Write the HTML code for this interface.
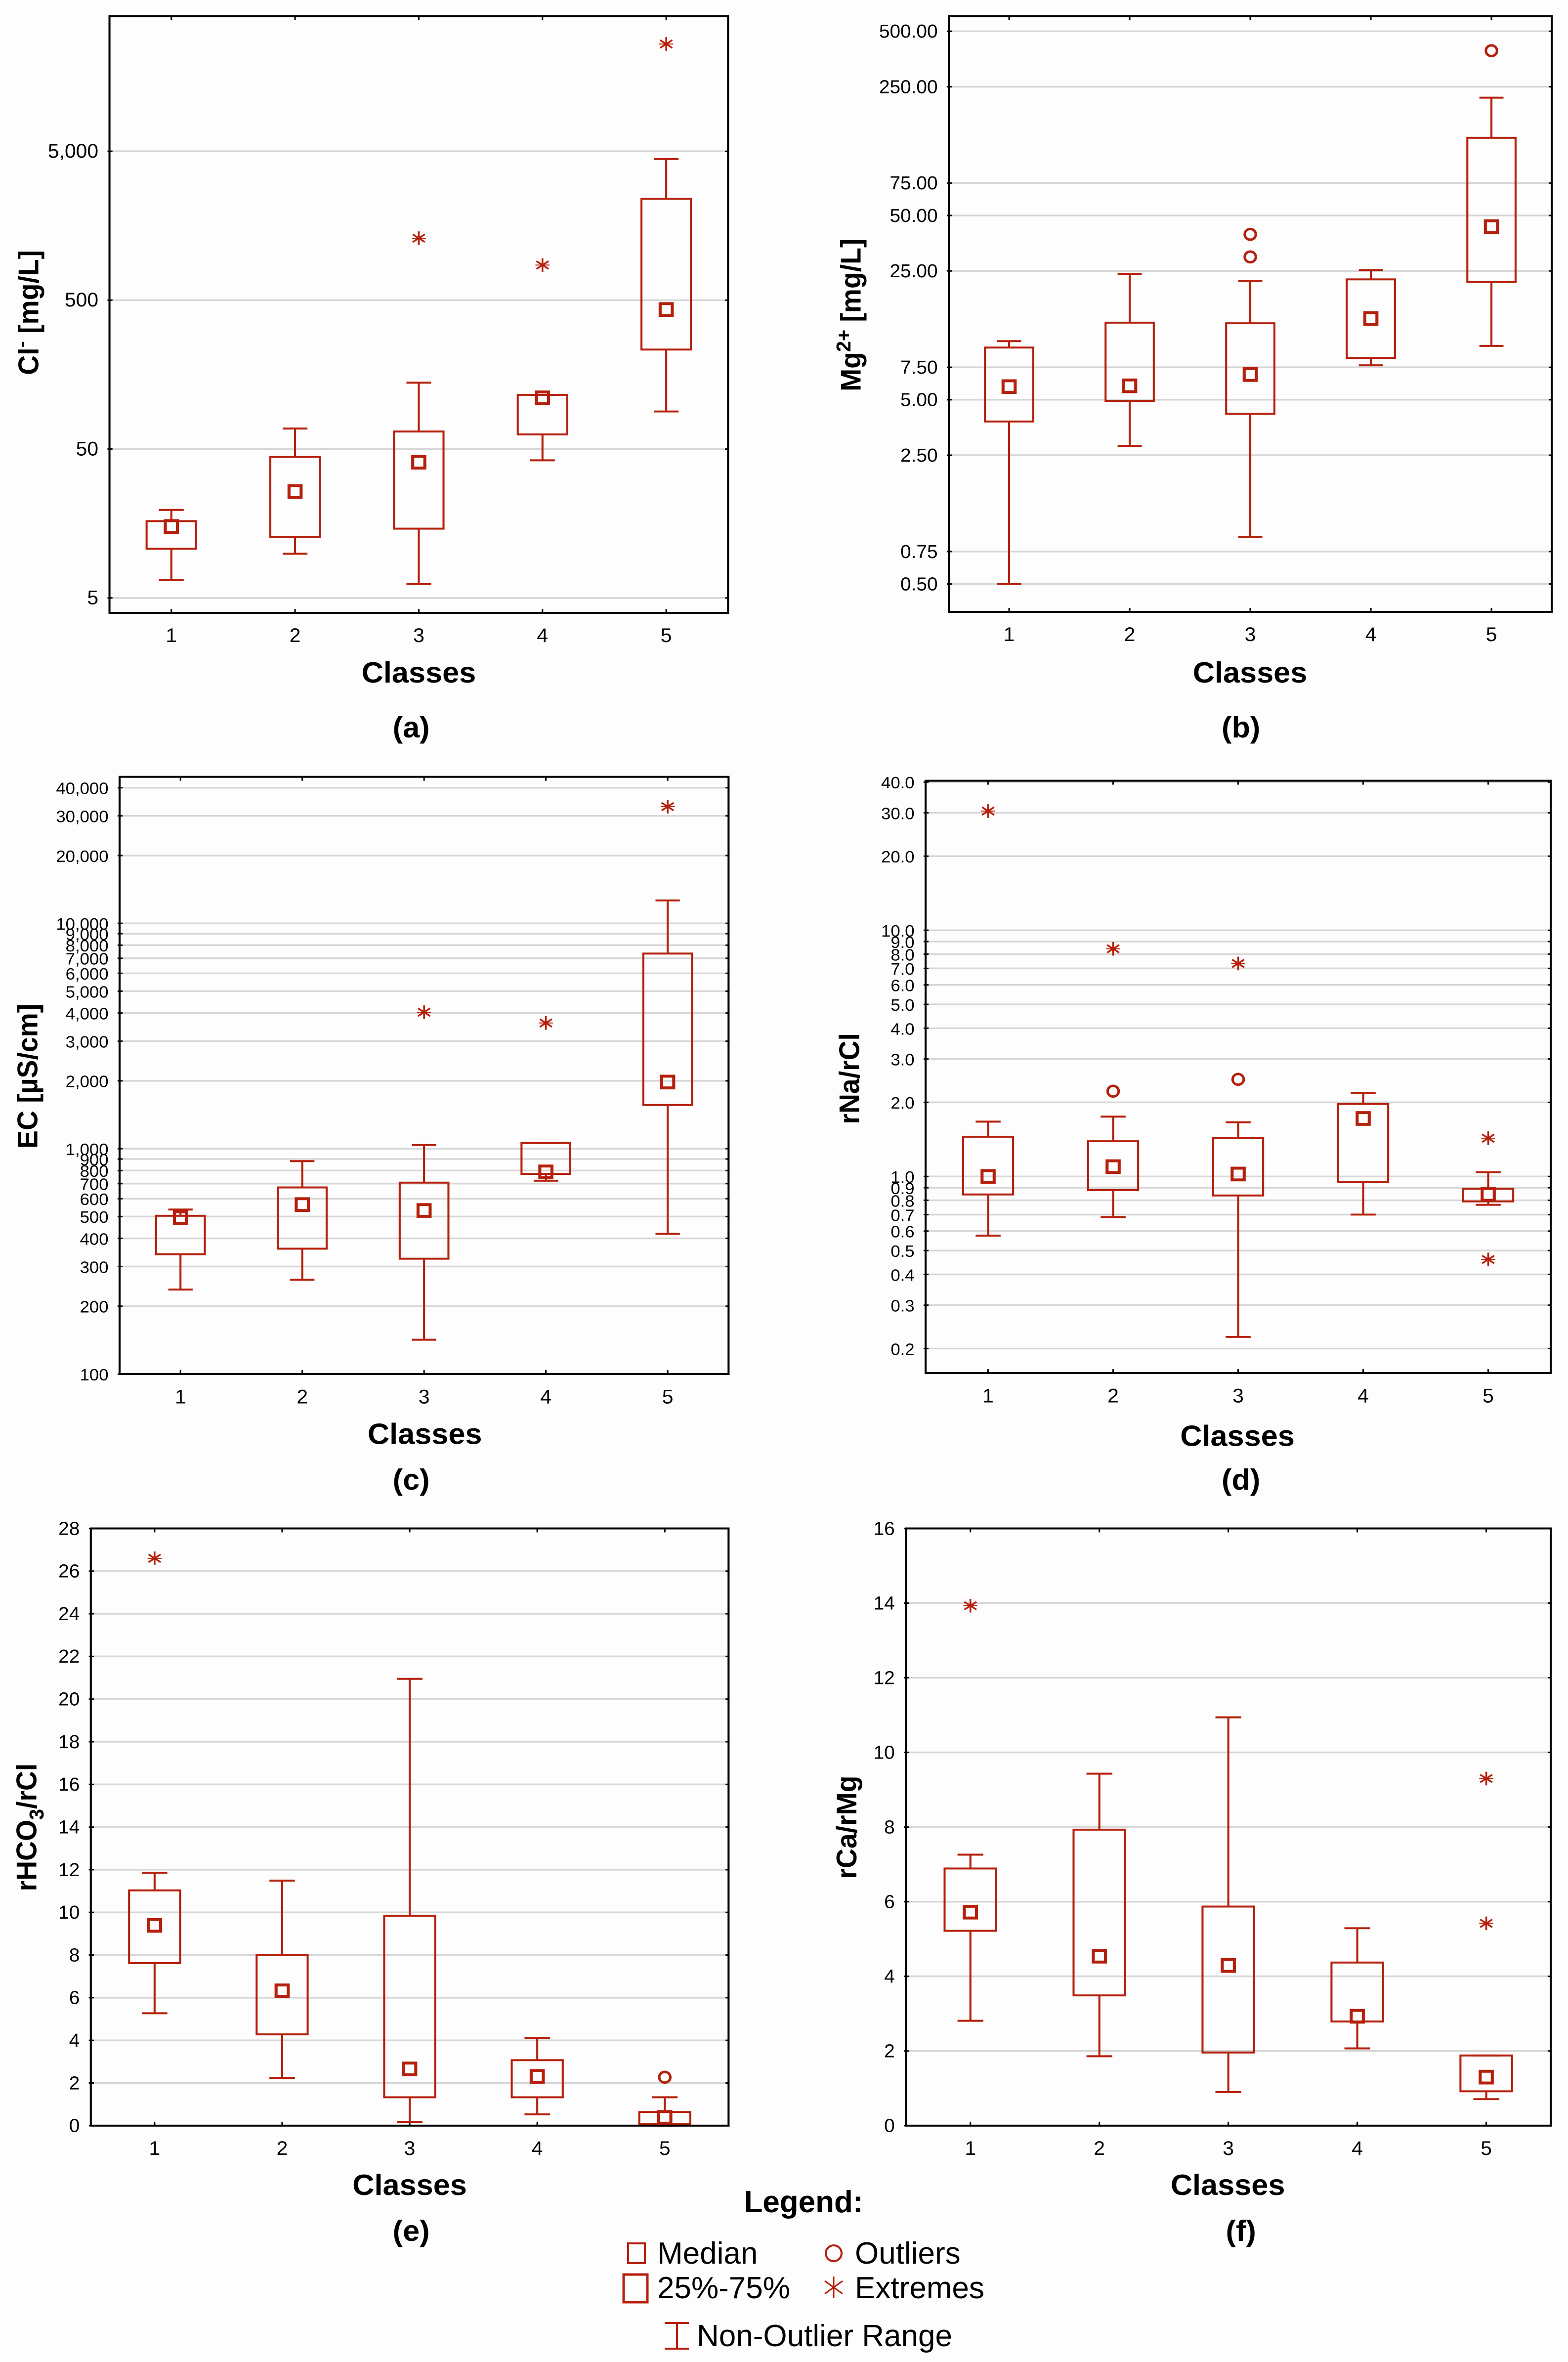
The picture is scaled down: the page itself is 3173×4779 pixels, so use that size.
<!DOCTYPE html>
<html><head><meta charset="utf-8"><title>Box plots</title>
<style>
html,body{margin:0;padding:0;background:#fdfdfd;}
svg{display:block;}
text{font-family:"Liberation Sans",Arial,sans-serif;fill:#000;}
</style></head>
<body>
<svg id="fig" xmlns="http://www.w3.org/2000/svg" width="3173" height="4779" viewBox="0 0 3173 4779">
<rect x="0" y="0" width="3173" height="4779" fill="#fdfdfd"/>
<g id="legend">
  <text x="1626" y="4476" font-size="62" font-weight="bold" text-anchor="middle">Legend:</text>
  <rect x="1271" y="4539" width="34" height="40" fill="none" stroke="#b5200c" stroke-width="4"/>
  <text x="1330" y="4580" font-size="62">Median</text>
  <rect x="1262" y="4602" width="48" height="56" fill="none" stroke="#b5200c" stroke-width="5"/>
  <text x="1330" y="4650" font-size="62">25%-75%</text>
  <circle cx="1687" cy="4559" r="16" fill="none" stroke="#b5200c" stroke-width="4"/>
  <text x="1730" y="4580" font-size="62">Outliers</text>
  <g stroke="#b5200c" stroke-width="3">
    <line x1="1687" y1="4606" x2="1687" y2="4650"/><line x1="1669" y1="4615" x2="1705" y2="4641"/><line x1="1669" y1="4641" x2="1705" y2="4615"/>
  </g>
  <text x="1730" y="4650" font-size="62">Extremes</text>
  <g stroke="#b5200c" stroke-width="4">
    <line x1="1345" y1="4700" x2="1394" y2="4700"/><line x1="1370" y1="4700" x2="1370" y2="4752"/><line x1="1345" y1="4752" x2="1394" y2="4752"/>
  </g>
  <text x="1410" y="4747" font-size="62">Non-Outlier Range</text>
</g>
</svg>
<script>
const classes = ["1","2","3","4","5"];

// (a) Cl- [mg/L]
const clMin = [6.6, 9.9, 6.2, 42.0, 89.4];
const clQ1 = [10.7, 12.8, 14.6, 62.7, 233];
const clMed = [15.1, 25.9, 40.8, 110.4, 433];
const clQ3 = [16.4, 44.3, 65.6, 115.6, 2403];
const clMax = [19.5, 68.7, 139.6, 115.6, 4435];
const clOutClass = [];
const clOutVal = [];
const clExtClass = [3, 4, 5];
const clExtVal = [1304, 861, 26300];
const clTicks = [5, 50, 500, 5000];
const clTickLabels = ["5", "50", "500", "5,000"];

// (b) Mg2+ [mg/L]
const mgMin = [0.5, 2.81, 0.90, 7.69, 9.8];
const mgQ1 = [3.81, 4.93, 4.20, 8.43, 21.8];
const mgMed = [5.89, 5.95, 6.85, 13.8, 43.5];
const mgQ3 = [9.6, 13.1, 13.0, 22.5, 132];
const mgMax = [10.4, 24.1, 22.1, 25.3, 218];
const mgOutClass = [3, 3, 5];
const mgOutVal = [39.5, 29.8, 392];
const mgExtClass = [];
const mgExtVal = [];
const mgTicks = [0.5, 0.75, 2.5, 5, 7.5, 25, 50, 75, 250, 500];
const mgTickLabels = ["0.50","0.75","2.50","5.00","7.50","25.00","50.00","75.00","250.00","500.00"];

// (c) EC [uS/cm]
const ecMin = [237, 262, 142, 721, 419];
const ecQ1 = [340, 360, 325, 773, 1563];
const ecMed = [494, 565, 532, 789, 1976];
const ecQ3 = [504, 673, 707, 1059, 7345];
const ecMax = [537, 881, 1038, 1059, 12640];
const ecOutClass = [];
const ecOutVal = [];
const ecExtClass = [3, 4, 5];
const ecExtVal = [4034, 3613, 32960];
const ecTicks = [100,200,300,400,500,600,700,800,900,1000,2000,3000,4000,5000,6000,7000,8000,9000,10000,20000,30000,40000];
const ecTickLabels = ["100","200","300","400","500","600","700","800","900","1,000","2,000","3,000","4,000","5,000","6,000","7,000","8,000","9,000","10,000","20,000","30,000","40,000"];

// (d) rNa/rCl
const naMin = [0.575, 0.684, 0.223, 0.70, 0.767];
const naQ1 = [0.845, 0.88, 0.837, 0.951, 0.792];
const naMed = [1.0, 1.096, 1.023, 1.72, 0.845];
const naQ3 = [1.45, 1.39, 1.43, 1.97, 0.892];
const naMax = [1.67, 1.75, 1.66, 2.18, 1.04];
const naOutClass = [2, 3];
const naOutVal = [2.22, 2.48];
const naExtClass = [1, 2, 3, 5, 5];
const naExtVal = [30.5, 8.41, 7.33, 1.43, 0.46];
const naTicks = [0.2,0.3,0.4,0.5,0.6,0.7,0.8,0.9,1,2,3,4,5,6,7,8,9,10,20,30,40];
const naTickLabels = ["0.2","0.3","0.4","0.5","0.6","0.7","0.8","0.9","1.0","2.0","3.0","4.0","5.0","6.0","7.0","8.0","9.0","10.0","20.0","30.0","40.0"];

// (e) rHCO3/rCl
const hcMin = [5.27, 2.24, 0.18, 0.53, 0.0];
const hcQ1 = [7.62, 4.28, 1.33, 1.33, 0.07];
const hcMed = [9.39, 6.32, 2.66, 2.31, 0.39];
const hcQ3 = [11.03, 8.01, 9.84, 3.07, 0.64];
const hcMax = [11.86, 11.49, 20.95, 4.12, 1.33];
const hcOutClass = [5];
const hcOutVal = [2.27];
const hcExtClass = [1];
const hcExtVal = [26.6];
const hcTicks = [0,2,4,6,8,10,12,14,16,18,20,22,24,26,28];
const hcTickLabels = ["0","2","4","6","8","10","12","14","16","18","20","22","24","26","28"];

// (f) rCa/rMg
const caMin = [2.81, 1.86, 0.90, 2.07, 0.71];
const caQ1 = [5.22, 3.49, 1.96, 2.79, 0.92];
const caMed = [5.72, 4.54, 4.29, 2.93, 1.30];
const caQ3 = [6.89, 7.93, 5.87, 4.37, 1.88];
const caMax = [7.26, 9.43, 10.94, 5.29, 1.88];
const caOutClass = [];
const caOutVal = [];
const caExtClass = [1, 5, 5];
const caExtVal = [13.93, 9.30, 5.42];
const caTicks = [0,2,4,6,8,10,12,14,16];
const caTickLabels = ["0","2","4","6","8","10","12","14","16"];

const NS = "http://www.w3.org/2000/svg";
const RED = "#b5200c";
const svg = document.getElementById("fig");

function mk(tag, attrs, parent) {
  const el = document.createElementNS(NS, tag);
  for (const k in attrs) el.setAttribute(k, attrs[k]);
  parent.appendChild(el);
  return el;
}

function drawPanel(cfg) {
  const g = mk("g", {transform: "translate(" + cfg.ox + "," + cfg.oy + ") scale(" + cfg.sx + ",0.988)"}, svg);
  
  
  const L = cfg.box[0], T = cfg.box[1], R = cfg.box[2], B = cfg.box[3];
  const lo = cfg.domain[0], hi = cfg.domain[1];
  const y = cfg.log
    ? (v) => B - (Math.log10(v) - Math.log10(lo)) / (Math.log10(hi) - Math.log10(lo)) * (B - T)
    : (v) => B - (v - lo) / (hi - lo) * (B - T);
  const slot = (R - L) / classes.length;
  const x = (i) => L + slot * (i + 0.5);

  for (let i = 0; i < cfg.ticks.length; i++) {
    const yy = y(cfg.ticks[i]);
    const gl = mk("line", {x1: L, x2: R, y1: yy, y2: yy, stroke: "#d6d6d6", "stroke-width": 3.5}, g);
    
    
    const t1 = mk("line", {x1: L - 4, x2: L + 6, y1: yy, y2: yy, stroke: "#000", "stroke-width": 3}, g);
    
    
    const t2 = mk("line", {x1: R - 6, x2: R + 2, y1: yy, y2: yy, stroke: "#000", "stroke-width": 3}, g);
    
    
    const lb = mk("text", {x: L - 22, y: yy + 13, "font-size": cfg.tickFont, "text-anchor": "end"}, g);
    lb.textContent = cfg.tickLabels[i];
    
    
  }
  for (let i = 0; i < classes.length; i++) {
    const xx = x(i);
    const t1 = mk("line", {x1: xx, x2: xx, y1: T, y2: T + 8, stroke: "#000", "stroke-width": 3}, g);
    
    
    const t2 = mk("line", {x1: xx, x2: xx, y1: B - 8, y2: B, stroke: "#000", "stroke-width": 3}, g);
    
    
    const lb = mk("text", {x: xx, y: B + 60, "font-size": 40, "text-anchor": "middle"}, g);
    lb.textContent = classes[i];
    
    
  }
  const bw = slot * 0.4, cw = slot * 0.2, ms = 24;
  for (let i = 0; i < classes.length; i++) {
    const xx = x(i);
    const bg = mk("g", {stroke: RED, "stroke-width": 4, fill: "none"}, g);
    
    
    const yMax = y(cfg.max[i]), yMin = y(cfg.min[i]), yQ1 = y(cfg.q1[i]), yQ3 = y(cfg.q3[i]), yMed = y(cfg.med[i]);
    const w1 = mk("line", {x1: xx, x2: xx, y1: yMax, y2: yQ3}, bg);
    
    
    const c1 = mk("line", {x1: xx - cw / 2, x2: xx + cw / 2, y1: yMax, y2: yMax}, bg);
    
    
    const w2 = mk("line", {x1: xx, x2: xx, y1: yQ1, y2: yMin}, bg);
    
    
    const c2 = mk("line", {x1: xx - cw / 2, x2: xx + cw / 2, y1: yMin, y2: yMin}, bg);
    
    
    const rb = mk("rect", {x: xx - bw / 2, y: yQ3, width: bw, height: Math.max(1, yQ1 - yQ3)}, bg);
    
    
    const md = mk("rect", {x: xx - ms / 2, y: yMed - ms / 2, width: ms, height: ms, "stroke-width": 6}, bg);
    
    
  }
  for (let i = 0; i < cfg.outC.length; i++) {
    const c = mk("circle", {cx: x(cfg.outC[i] - 1), cy: y(cfg.outV[i]), r: 11, fill: "none", stroke: RED, "stroke-width": 5}, g);
    
    
  }
  for (let i = 0; i < cfg.extC.length; i++) {
    const cx = x(cfg.extC[i] - 1), cy = y(cfg.extV[i]);
    const eg = mk("g", {stroke: RED, "stroke-width": 3.5}, g);
    
    
    mk("line", {x1: cx, x2: cx, y1: cy - 14, y2: cy + 14}, eg);
    mk("line", {x1: cx - 12, x2: cx + 12, y1: cy - 8, y2: cy + 8}, eg);
    mk("line", {x1: cx - 12, x2: cx + 12, y1: cy + 8, y2: cy - 8}, eg);
    mk("line", {x1: cx - 14, x2: cx + 14, y1: cy, y2: cy, "stroke-width": 2}, eg);
  }
  const fr = mk("rect", {x: L, y: T, width: R - L, height: B - T, fill: "none", stroke: "#000", "stroke-width": 4}, g);
  
  
  const xt = mk("text", {x: cfg.xTitle[0], y: cfg.xTitle[1], "font-size": 60, "font-weight": "bold", "text-anchor": "middle"}, g);
  xt.textContent = "Classes";
  
  
  const pl = mk("text", {x: cfg.label[0], y: cfg.label[1], "font-size": 60, "font-weight": "bold", "text-anchor": "middle"}, g);
  pl.textContent = cfg.labelText;
  
  
  const yt = mk("text", {x: 0, y: 0, "font-size": 56, "font-weight": "bold", "text-anchor": "middle",
    transform: "translate(" + cfg.yTitle[0] + "," + cfg.yTitle[1] + ") rotate(-90)"}, g);
  yt.innerHTML = cfg.yTitleHtml;
  
  
}

drawPanel({name: "panel-a-chloride", ox: 0, oy: 0, sx: 1.021, box: [217, 33, 1443, 1255], log: true, domain: [3.97, 40470],
  ticks: clTicks, tickLabels: clTickLabels, tickFont: 40,
  min: clMin, q1: clQ1, med: clMed, q3: clQ3, max: clMax, outC: clOutClass, outV: clOutVal, extC: clExtClass, extV: clExtVal,
  xTitle: [830, 1398], label: [815, 1510], labelText: "(a)", yTitle: [76, 640],
  yTitleHtml: 'Cl<tspan dy="-20" font-size="40">-</tspan><tspan dy="20"> [mg/L]</tspan>'});

drawPanel({name: "panel-b-magnesium", ox: 1580, oy: 0, sx: 1.021, box: [333, 33, 1528, 1253], log: true, domain: [0.353, 604],
  ticks: mgTicks, tickLabels: mgTickLabels, tickFont: 38,
  min: mgMin, q1: mgQ1, med: mgMed, q3: mgQ3, max: mgMax, outC: mgOutClass, outV: mgOutVal, extC: mgExtClass, extV: mgExtVal,
  xTitle: [930, 1398], label: [912, 1510], labelText: "(b)", yTitle: [158, 645],
  yTitleHtml: 'Mg<tspan dy="-20" font-size="40">2+</tspan><tspan dy="20"> [mg/L]</tspan>'});

drawPanel({name: "panel-c-conductivity", ox: 0, oy: 1550, sx: 1.021, box: [237, 22, 1444, 1245], log: true, domain: [100, 44700],
  ticks: ecTicks, tickLabels: ecTickLabels, tickFont: 34,
  min: ecMin, q1: ecQ1, med: ecMed, q3: ecQ3, max: ecMax, outC: ecOutClass, outV: ecOutVal, extC: ecExtClass, extV: ecExtVal,
  xTitle: [842, 1388], label: [815, 1482], labelText: "(c)", yTitle: [74, 635],
  yTitleHtml: 'EC [µS/cm]'});

drawPanel({name: "panel-d-na-cl-ratio", ox: 1580, oy: 1550, sx: 1.021, box: [287, 30, 1526, 1243], log: true, domain: [0.159, 40.5],
  ticks: naTicks, tickLabels: naTickLabels, tickFont: 34,
  min: naMin, q1: naQ1, med: naMed, q3: naQ3, max: naMax, outC: naOutClass, outV: naOutVal, extC: naExtClass, extV: naExtVal,
  xTitle: [905, 1392], label: [912, 1482], labelText: "(d)", yTitle: [155, 640],
  yTitleHtml: 'rNa/rCl'});

drawPanel({name: "panel-e-hco3-cl-ratio", ox: 0, oy: 3050, sx: 1.021, box: [180, 43, 1444, 1266], log: false, domain: [0, 28],
  ticks: hcTicks, tickLabels: hcTickLabels, tickFont: 38,
  min: hcMin, q1: hcQ1, med: hcMed, q3: hcQ3, max: hcMax, outC: hcOutClass, outV: hcOutVal, extC: hcExtClass, extV: hcExtVal,
  xTitle: [812, 1408], label: [815, 1502], labelText: "(e)", yTitle: [72, 655],
  yTitleHtml: 'rHCO<tspan dy="14" font-size="40">3</tspan><tspan dy="-14">/rCl</tspan>'});

drawPanel({name: "panel-f-ca-mg-ratio", ox: 1580, oy: 3050, sx: 1.021, box: [248, 43, 1526, 1266], log: false, domain: [0, 16],
  ticks: caTicks, tickLabels: caTickLabels, tickFont: 38,
  min: caMin, q1: caQ1, med: caMed, q3: caQ3, max: caMax, outC: caOutClass, outV: caOutVal, extC: caExtClass, extV: caExtVal,
  xTitle: [886, 1408], label: [912, 1502], labelText: "(f)", yTitle: [150, 655],
  yTitleHtml: 'rCa/rMg'});

svg.appendChild(document.getElementById("legend"));
</script>
</body></html>
